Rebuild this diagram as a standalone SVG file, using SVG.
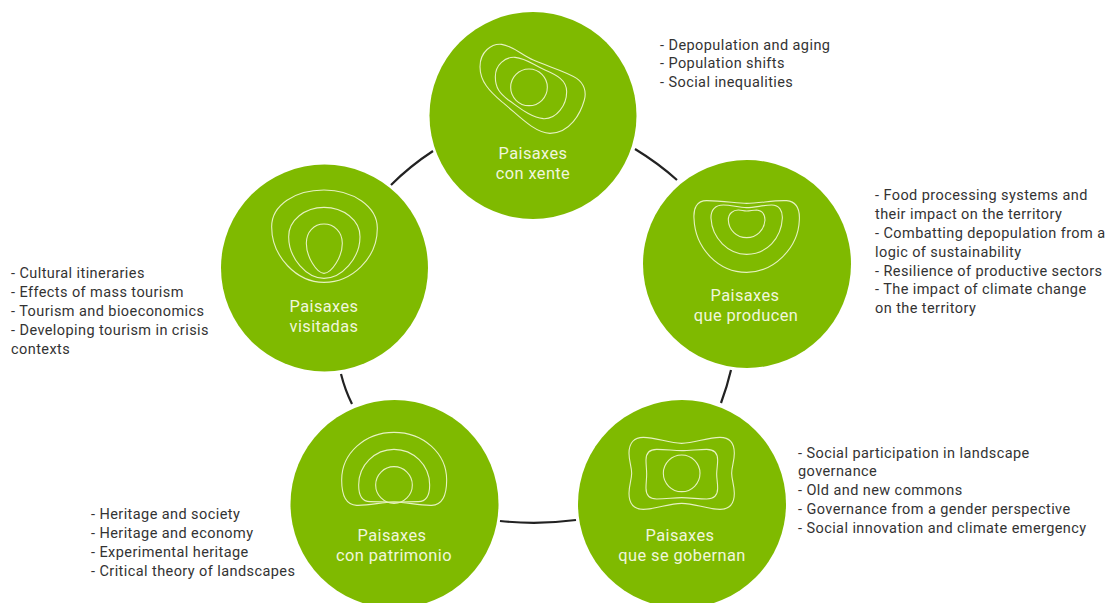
<svg xmlns="http://www.w3.org/2000/svg" width="1112" height="603" viewBox="0 0 1112 603">
<style>
text{font-family:"Roboto","Inter","Liberation Sans",sans-serif}
.disc{fill:#7fba00}
.ico{fill:none;stroke:#e6f2c0;stroke-width:3.3}
.name{fill:#f0f6dc;font-size:16.400px;letter-spacing:.4px;text-anchor:middle}
.note{fill:#333;font-size:14.500px;letter-spacing:.42px}
.link{fill:none;stroke:#222;stroke-width:2.200}
</style>
<rect width="1112" height="603" fill="#fff"/>
<g id="connectors">
<path class="link" d="M391 185Q410 166 433 151"/>
<path class="link" d="M635 149Q658 163 677 180"/>
<path class="link" d="M731 370Q727 387 721 403"/>
<path class="link" d="M500 521Q538 525 576 520"/>
<path class="link" d="M341 374Q345 390 352 404"/>
</g>
<g id="node-xente">
<circle class="disc" cx="533" cy="115.500" r="103.500"/>
<g transform="translate(430 10) scale(.33333)">
<path class="ico" d="M150 170C150 125 185 100 215 103C250 108 275 135 310 150C350 168 410 185 440 205C462 220 470 245 463 270C452 310 420 370 360 370C310 368 260 310 215 275C180 245 150 215 150 170Z"/>
<path class="ico" d="M196 200C196 165 225 140 255 142C290 145 310 165 345 180C380 195 410 210 410 245C410 285 380 328 340 326C300 322 265 290 235 270C210 250 196 235 196 200Z"/>
<circle class="ico" cx="297" cy="232" r="55"/>
</g>
<text class="name" x="533" y="159">Paisaxes</text>
<text class="name" x="533" y="179">con xente</text>
<text class="note" x="660" y="50">- Depopulation and aging</text>
<text class="note" x="660" y="68">- Population shifts</text>
<text class="note" x="660" y="87">- Social inequalities</text>
</g>
<g id="node-producen">
<circle class="disc" cx="747" cy="264" r="104"/>
<g transform="translate(640 185) scale(.33333)">
<path class="ico" d="M162 100C160 70 170 47 200 47C250 47 290 55 320 55C360 55 400 45 440 47C470 50 480 70 478 105C475 190 400 262 320 262C235 262 165 190 162 100Z"/>
<path class="ico" d="M213 100C212 75 225 60 250 60C275 60 295 68 320 68C345 68 370 60 395 60C418 60 428 78 427 100C424 160 380 208 320 208C265 208 216 160 213 100Z"/>
<path class="ico" d="M265 105C265 85 280 75 295 75C305 75 310 78 320 78C330 78 340 75 350 75C365 77 375 88 375 105C373 135 350 158 320 158C290 158 266 135 265 105Z"/>
</g>
<text class="name" x="745" y="301">Paisaxes</text>
<text class="name" x="746" y="321">que producen</text>
<text class="note" x="875" y="200">- Food processing systems and</text>
<text class="note" x="875" y="219">their impact on the territory</text>
<text class="note" x="875" y="238">- Combatting depopulation from a</text>
<text class="note" x="875" y="257">logic of sustainability</text>
<text class="note" x="875" y="276">- Resilience of productive sectors</text>
<text class="note" x="875" y="294">- The impact of climate change</text>
<text class="note" x="875" y="313">on the territory</text>
</g>
<g id="node-gobernan">
<circle class="disc" cx="682" cy="504" r="104"/>
<g transform="translate(575 400) scale(.33333)">
<path class="ico" d="M205 112C245 112 280 130 320 130C360 130 395 112 435 112C462 112 478 128 478 160C478 185 470 200 470 220C470 240 478 255 478 280C478 312 462 328 435 328C395 328 360 310 320 310C280 310 245 328 205 328C178 328 162 312 162 280C162 255 170 240 170 220C170 200 162 185 162 160C162 128 178 112 205 112Z"/>
<path class="ico" d="M245 148C275 148 295 152 320 152C345 152 370 148 395 148C418 148 428 160 428 180C428 197 425 208 425 222C425 236 428 247 428 265C428 285 418 297 395 297C370 297 345 293 320 293C295 293 275 297 245 297C223 297 213 285 213 265C213 247 215 236 215 222C215 208 213 197 213 180C213 160 223 148 245 148Z"/>
<circle class="ico" cx="320" cy="220" r="55"/>
</g>
<text class="name" x="680" y="541">Paisaxes</text>
<text class="name" x="682" y="561">que se gobernan</text>
<text class="note" x="798" y="457.500">- Social participation in landscape</text>
<text class="note" x="798" y="475.500">governance</text>
<text class="note" x="798" y="494.500">- Old and new commons</text>
<text class="note" x="798" y="513.500">- Governance from a gender perspective</text>
<text class="note" x="798" y="532.500">- Social innovation and climate emergency</text>
</g>
<g id="node-patrimonio">
<circle class="disc" cx="394.500" cy="504" r="104"/>
<g transform="translate(290 400) scale(.33333)">
<path class="ico" d="M155 240C155 160 225 97 312 97C400 97 470 160 470 240C470 285 458 315 425 316C385 317 350 306 312 306C275 306 240 317 200 316C168 315 155 285 155 240Z"/>
<path class="ico" d="M206 255C206 195 255 148 312 148C370 148 419 195 419 255C419 290 405 305 385 305C360 305 340 306 312 306C285 306 265 305 240 305C220 305 206 290 206 255Z"/>
<circle class="ico" cx="312" cy="255" r="55"/>
</g>
<text class="name" x="392" y="541">Paisaxes</text>
<text class="name" x="394" y="561">con patrimonio</text>
<text class="note" x="91" y="519">- Heritage and society</text>
<text class="note" x="91" y="538">- Heritage and economy</text>
<text class="note" x="91" y="557">- Experimental heritage</text>
<text class="note" x="91" y="576">- Critical theory of landscapes</text>
</g>
<g id="node-visitadas">
<circle class="disc" cx="324.500" cy="268" r="103.500"/>
<g transform="translate(220 165) scale(.33333)">
<path class="ico" d="M155 185C155 120 225 75 312 75C400 75 472 125 472 190C472 280 395 352 312 352C230 352 155 275 155 185Z"/>
<path class="ico" d="M206 215C206 165 255 127 312 127C370 127 420 165 420 215C420 280 365 340 312 340C260 340 206 280 206 215Z"/>
<path class="ico" d="M259 235C259 200 282 177 312 177C342 177 367 200 367 235C367 275 335 325 312 325C290 325 259 275 259 235Z"/>
</g>
<text class="name" x="324" y="312">Paisaxes</text>
<text class="name" x="324" y="332">visitadas</text>
<text class="note" x="11" y="278">- Cultural itineraries</text>
<text class="note" x="11" y="297">- Effects of mass tourism</text>
<text class="note" x="11" y="316">- Tourism and bioeconomics</text>
<text class="note" x="11" y="335">- Developing tourism in crisis</text>
<text class="note" x="11" y="354">contexts</text>
</g>
</svg>
